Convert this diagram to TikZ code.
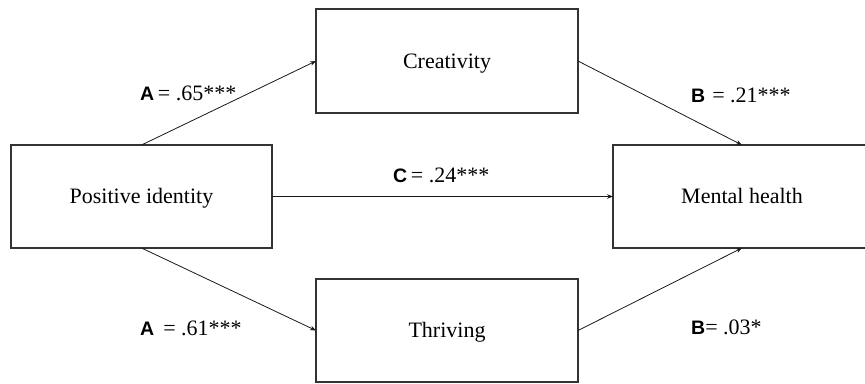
\documentclass[tikz,border=0pt]{standalone}
\usepackage{fontspec}
\setmainfont{Liberation Serif}
\newfontfamily\lsans{Liberation Sans}
\usetikzlibrary{arrows.meta}
\begin{document}
\begin{tikzpicture}[x=1pt,y=-1pt,
  boxline/.style={draw=black!80,line width=1.1pt},
  box/.style={boxline,rectangle,inner sep=0pt,outer sep=0pt,text height=15pt,text depth=1pt,
    font=\fontsize{22}{26}\selectfont},
  conn/.style={draw=black!90,line width=0.8pt,-{Stealth[length=6pt,width=4.5pt]}},
  lab/.style={anchor=west,inner sep=0pt,font=\fontsize{22}{26}\selectfont},
  ]
\useasboundingbox (0,0) rectangle (865,383);
\clip (0,0) rectangle (865,383);
\node[box,minimum width=261pt,minimum height=103pt] (pi) at (141.5,196.5) {Positive identity};
\node[box,minimum width=262pt,minimum height=104pt] (cr) at (447,61) {Creativity};
\node[box,minimum width=262pt,minimum height=103pt] (th) at (447,330.5) {Thriving};
\node[box,draw=none,minimum width=258pt,minimum height=103pt] (mh) at (742,196.5) {Mental health};
\draw[boxline] ([xshift=280pt]mh.north west) -- (mh.north west) -- (mh.south west) -- ([xshift=280pt]mh.south west);
\draw[conn] (pi.north) -- (cr.west);
\draw[conn] (pi.east) -- (mh.west);
\draw[conn] (pi.south) -- (th.west);
\draw[conn] (cr.east) -- (mh.north);
\draw[conn] (th.east) -- (mh.south);
\node[lab] (la1) at (140,93) {{\lsans\bfseries\fontsize{19.5}{24}\selectfont A}\,= .65***};
\node[lab] (lb1) at (691,95) {{\lsans\bfseries\fontsize{19.5}{24}\selectfont B}\hspace{7pt}= .21***};
\node[lab] (lc) at (393,175) {{\lsans\bfseries\fontsize{19.5}{24}\selectfont C}\,= .24***};
\node[lab] (la2) at (140,328) {{\lsans\bfseries\fontsize{19.5}{24}\selectfont A}\hspace{9pt}= .61***};
\node[lab] (lb2) at (691,327) {{\lsans\bfseries\fontsize{19.5}{24}\selectfont B}= .03*};
\end{tikzpicture}
\end{document}
